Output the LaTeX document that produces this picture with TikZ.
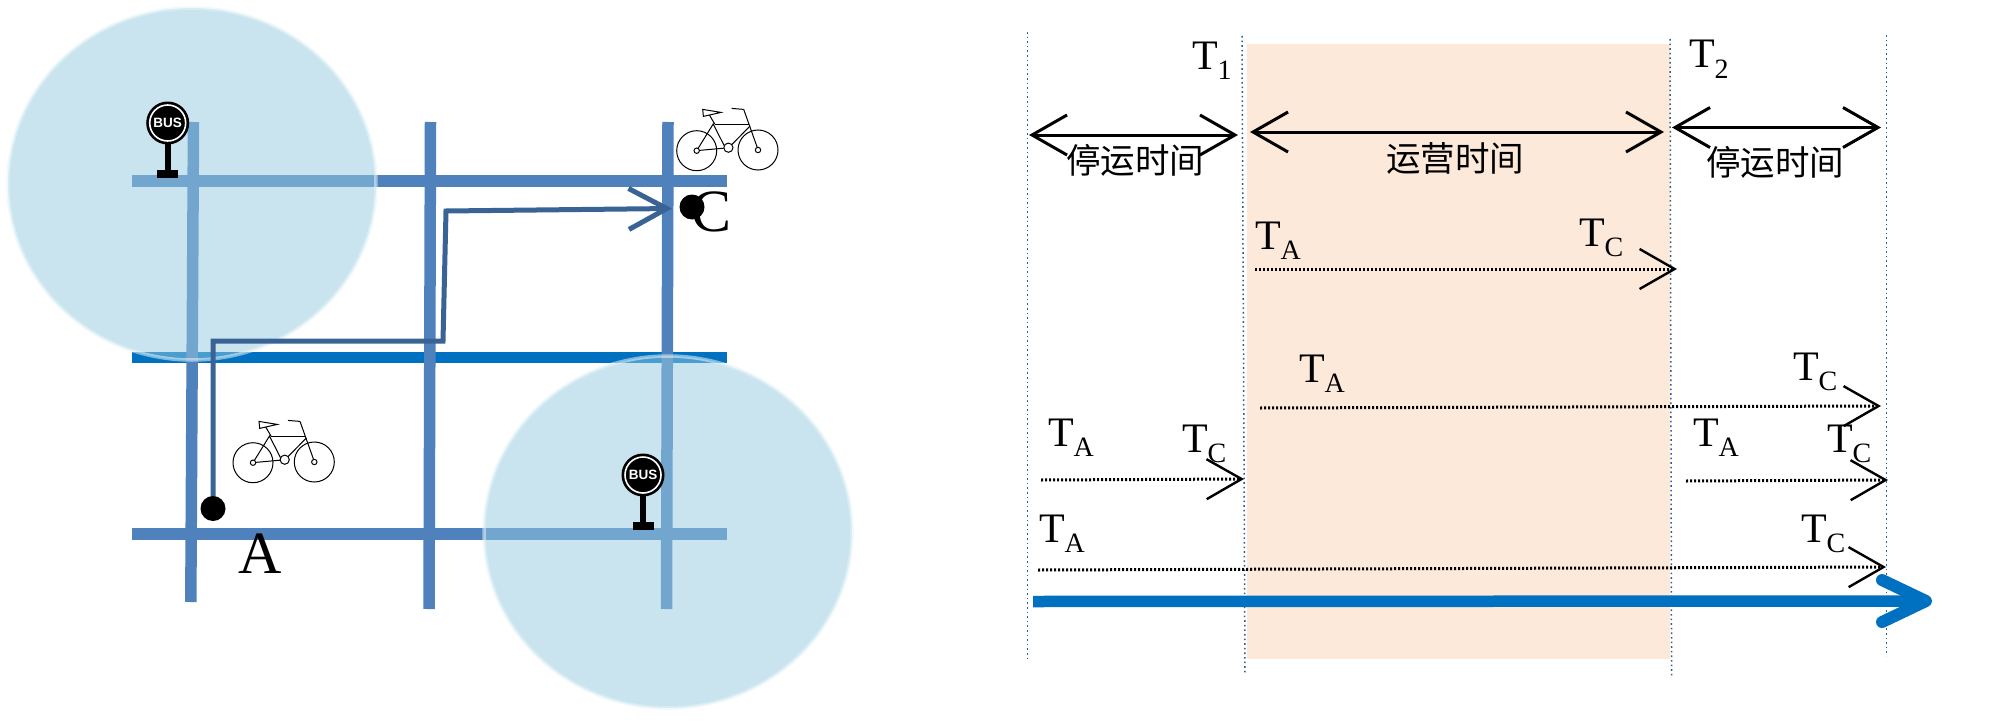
\documentclass[tikz,border=0pt]{standalone}
\usepackage{fontspec}
\setmainfont{Liberation Serif}
\newfontfamily\cjkfont{Noto Sans CJK SC}
\newfontfamily\signfont{Liberation Sans}
\usetikzlibrary{arrows.meta}
\definecolor{roadblue}{HTML}{4F81BD}
\definecolor{mainblue}{HTML}{0070C0}
\definecolor{zonefill}{HTML}{95CBDF}
\definecolor{zoneedge}{HTML}{E6F4F8}
\definecolor{routeblue}{HTML}{3A6395}
\definecolor{opband}{HTML}{FDE9DA}
\definecolor{tickblue}{HTML}{2F5F8F}
\newcommand{\tsub}[1]{\fontsize{42}{44}\selectfont T\raisebox{-10pt}{\fontsize{28}{30}\selectfont #1}}
\tikzset{
  x=1pt,y=-1pt,
  road/.style={line width=11.5pt,roadblue},
  zone/.style={fill=zonefill,fill opacity=.5,draw=zoneedge,draw opacity=.55,line width=3.5pt},
  route/.style={line width=5pt,routeblue,line join=miter},
  tick/.style={line width=1.5pt,tickblue,dash pattern=on 1.6pt off 3pt},
  span/.style={line width=3pt,black,{Straight Barb[length=35pt,width=40pt,line width=3pt]}-{Straight Barb[length=35pt,width=40pt,line width=3pt]}},
  trip/.style={line width=3pt,black,dash pattern=on 2.2pt off 1.8pt,-{Straight Barb[length=35pt,width=40pt,line width=2.4pt]}},
  tlabel/.style={anchor=base west,inner sep=0pt,outer sep=0pt},
  biglabel/.style={anchor=base west,inner sep=0pt,outer sep=0pt,font=\fontsize{60}{62}\selectfont},
  cjklabel/.style={inner sep=0pt,outer sep=0pt,font=\cjkfont\fontsize{34.5}{36}\selectfont},
  stopdot/.style={circle,fill=black,minimum size=25pt,inner sep=0pt},
  bicycle/.pic={
    \begin{scope}[line width=1pt,black]
      \draw (0,0) circle[radius=20];
      \draw (61.3,-.7) circle[radius=20];
      \draw[fill=white] (0,0) circle[radius=2.7];
      \draw[fill=white] (61.3,-.7) circle[radius=2.7];
      \draw (2.5,-.3) -- (27,-2.5);
      \draw (1.5,-2.5) -- (16.5,-26.7) -- (27.5,-5);
      \draw (18,-26.7) -- (52.3,-26.7);
      \draw (53.3,-24.7) -- (35,-6);
      \draw (47,-41.3) -- (60.5,-3.4);
      \draw (35,-42.3) -- (47,-41.3);
      \draw (12.7,-35.7) -- (18,-26.7);
      \draw (6,-41.3) -- (24.3,-38.3) -- (6.7,-34.3) -- cycle;
      \draw[fill=white] (31.7,-3) circle[radius=4.6];
    \end{scope}
  },
  bussign/.pic={
    \fill[black] (-3,15) rectangle (3,50);
    \fill[black] (-10.5,47) rectangle (10.5,55);
    \node[circle,fill=black,minimum size=43pt,inner sep=0pt] (-disc) at (0,0) {};
    \node[circle,fill=black,draw=white,line width=1.6pt,minimum size=36pt,inner sep=0pt,text=white,font=\signfont\bfseries\fontsize{13.5}{14}\selectfont] (-face) at (0,0) {BUS};
  }
}
\begin{document}
\begin{tikzpicture}
\useasboundingbox (0,0) rectangle (2000,725);
\fill[white] (0,0) rectangle (2000,725);

% street grid
\coordinate (h1w) at (132,181); \coordinate (h1e) at (727,181);
\coordinate (h2w) at (132,357); \coordinate (h2e) at (727,357);
\coordinate (h3w) at (132,534); \coordinate (h3e) at (727,534);
\coordinate (v1n) at (193.5,122); \coordinate (v1s) at (190.8,602);
\coordinate (v2n) at (430.5,122); \coordinate (v2s) at (429,609);
\coordinate (v3n) at (668,122); \coordinate (v3s) at (666.5,609);
\draw[road] (h1w) -- (h1e);
\draw[road,mainblue,line width=11pt] (h2w) -- (h2e);
\draw[road] (h3w) -- (h3e);
\draw[road] (v1n) -- (v1s);
\draw[road] (v2n) -- (v2s);
\draw[road] (v3n) -- (v3s);

% coverage zones
\path[zone] (192,184) ellipse[x radius=184,y radius=176];
\path[zone] (668,532) ellipse[x radius=184,y radius=176];

% labels C and A
\begin{scope}
  \clip (680,180) rectangle (727,240);
  \node[biglabel] (labelC) at (691,231) {C};
\end{scope}
\node[biglabel] (labelA) at (238,573) {A};

% route
\coordinate (r0) at (213,508.5);
\coordinate (r1) at (213,341);
\coordinate (r2) at (443,341);
\coordinate (r3) at (446,211);
\coordinate (r4) at (672,208.5);
\draw[route,-{Straight Barb[length=38pt,width=41pt,line width=5pt]}]
  (r0) -- (r1) -- (r2) -- (r3) -- (r4);
\node[stopdot] (dotA) at (r0) {};
\node[stopdot] (dotC) at (692,207) {};

% icons
\pic (busone) at (167.7,123) {bussign};
\pic (bustwo) at (643,475) {bussign};
\pic (bikeone) at (696.7,150.7) {bicycle};
\pic (biketwo) at (253,462.7) {bicycle};

% time band
\fill[opband] (1247,44) rectangle (1670,659);
\coordinate (t0n) at (1027.4,32); \coordinate (t0s) at (1027.4,660);
\coordinate (t1n) at (1242,36); \coordinate (t1s) at (1245,675);
\coordinate (t2n) at (1670,39); \coordinate (t2s) at (1671.6,676);
\coordinate (t3n) at (1886.5,35); \coordinate (t3s) at (1886.5,656);
\draw[tick] (t0n) -- (t0s);
\draw[tick] (t1n) -- (t1s);
\draw[tick] (t2n) -- (t2s);
\draw[tick] (t3n) -- (t3s);

\node[tlabel] (tone) at (1192,70) {\tsub{1}};
\node[tlabel] (ttwo) at (1689,68) {\tsub{2}};

% spans
\coordinate (s1a) at (1029,135); \coordinate (s1b) at (1238,135);
\coordinate (s2a) at (1250,132); \coordinate (s2b) at (1664,132);
\coordinate (s3a) at (1672,127.5); \coordinate (s3b) at (1881,127.5);
\draw[span] (s1a) -- (s1b);
\draw[span] (s2a) -- (s2b);
\draw[span] (s3a) -- (s3b);
\node[cjklabel] (stopone) at (1135,160) {停运时间};
\node[cjklabel] (oper) at (1455,158) {运营时间};
\node[cjklabel] (stoptwo) at (1775,162) {停运时间};

% trips
\coordinate (a1) at (1255,269); \coordinate (a2) at (1677,269);
\coordinate (b1) at (1260,408); \coordinate (b2) at (1881,406);
\coordinate (c1) at (1041,480); \coordinate (c2) at (1244,479);
\coordinate (d1) at (1686,481); \coordinate (d2) at (1888,480);
\coordinate (e1) at (1038,570); \coordinate (e2) at (1886,567);
\draw[trip] (a1) -- (a2);
\draw[trip] (b1) -- (b2);
\draw[trip] (c1) -- (c2);
\draw[trip] (d1) -- (d2);
\draw[trip] (e1) -- (e2);

\node[tlabel] (aA) at (1255,249) {\tsub{A}};
\node[tlabel] (aC) at (1579,246) {\tsub{C}};
\node[tlabel] (bA) at (1299,382) {\tsub{A}};
\node[tlabel] (bC) at (1793,380) {\tsub{C}};
\node[tlabel] (cA) at (1048,446) {\tsub{A}};
\node[tlabel] (cC) at (1182,452) {\tsub{C}};
\node[tlabel] (dA) at (1693,446) {\tsub{A}};
\node[tlabel] (dC) at (1827,452) {\tsub{C}};
\node[tlabel] (eA) at (1039,542) {\tsub{A}};
\node[tlabel] (eC) at (1801,542) {\tsub{C}};

% time axis
\coordinate (axisa) at (1033,601.5);
\coordinate (axisb) at (1932,601);
\draw[line width=11.5pt,mainblue,-{Straight Barb[length=44pt,width=42pt,line width=12pt,round]}] (axisa) -- (axisb);
\end{tikzpicture}
\end{document}
